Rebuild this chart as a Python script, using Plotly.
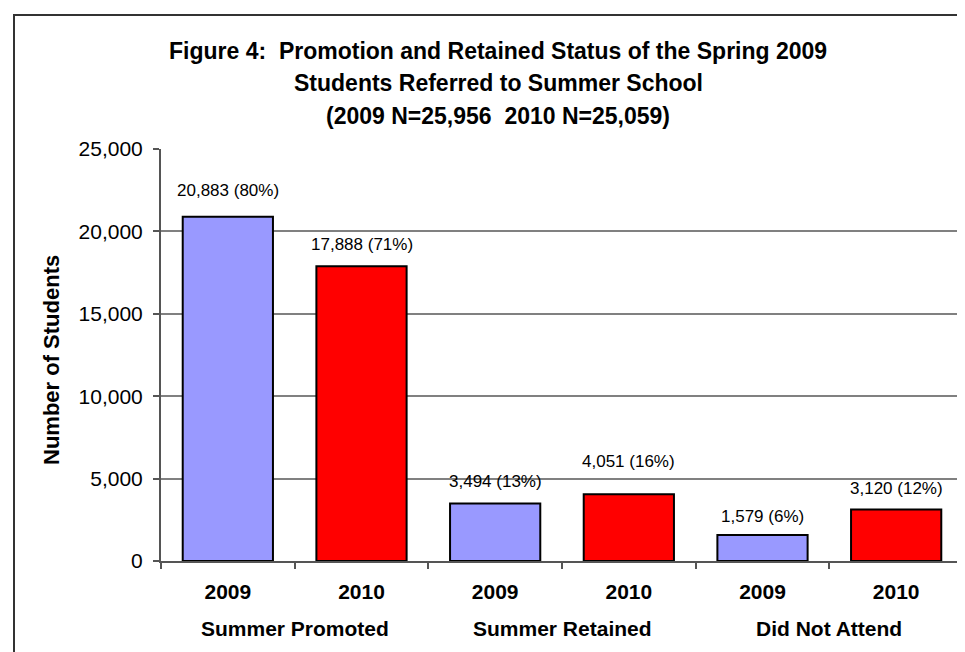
import plotly.graph_objects as go

# ---- data ----
groups = ["Summer Promoted", "Summer Retained", "Did Not Attend"]
years = ["2009", "2010"]
students = [20883, 17888, 3494, 4051, 1579, 3120]
percents = [80, 71, 13, 16, 6, 12]

# ---- style ----
year_colors = {"2009": "#9999FF", "2010": "#FF0000"}
label_lift = [26, 22, 22, 33, 18, 21]  # px above bar top (label centre)
FONT = "Arial, Liberation Sans, sans-serif"

cats = [f"{g} {y}" for g in groups for y in years]
bar_years = [y for g in groups for y in years]
colors = [year_colors[y] for y in bar_years]
labels = [f"{v:,} ({p}%)" for v, p in zip(students, percents)]

fig = go.Figure()
fig.add_trace(go.Bar(
    x=cats, y=students,
    marker=dict(color=colors, line=dict(color="#000000", width=2)),
    hoverinfo="skip",
))

L, R, T, B = 153, 10, 141, 99
W, H = 965, 652
pw, ph = W - L - R, H - T - B

annotations = []
for i, (c, v, t) in enumerate(zip(cats, students, labels)):
    annotations.append(dict(
        x=c, y=v, xref="x", yref="y", text=t, showarrow=False,
        yanchor="middle", yshift=label_lift[i],
        font=dict(family=FONT, size=17, color="#000000"),
    ))

# group labels under pairs of years
for gi, g in enumerate(groups):
    annotations.append(dict(
        x=gi * 2 + 0.5, y=0, xref="x", yref="paper", text=f"<b>{g}</b>",
        showarrow=False, yanchor="middle", yshift=-67,
        font=dict(family=FONT, size=21, color="#000000"),
    ))

# title lines
title_lines = [
    "Figure 4:  Promotion and Retained Status of the Spring 2009",
    "Students Referred to Summer School",
    "(2009 N=25,956  2010 N=25,059)",
]
title_centers = [43, 75, 108]
tx = (490 - L) / pw
for line, cy in zip(title_lines, title_centers):
    annotations.append(dict(
        x=tx, y=1, xref="paper", yref="paper", text=f"<b>{line}</b>",
        showarrow=False, xanchor="center", yanchor="middle",
        yshift=T - cy, font=dict(family=FONT, size=23, color="#000000"),
    ))

# y-axis title
annotations.append(dict(
    x=(43 - L) / pw, y=(H - B - 352) / ph, xref="paper", yref="paper",
    text="<b>Number of Students</b>", textangle=-90, showarrow=False,
    xanchor="center", yanchor="middle",
    font=dict(family=FONT, size=22, color="#000000"),
))

shapes = [
    # right edge of plot area
    dict(type="line", xref="paper", yref="paper", x0=1, x1=1, y0=0, y1=1,
         line=dict(color="#808080", width=2.5)),
    # outer chart border (right side falls outside the picture)
    dict(type="rect", xref="paper", yref="paper",
         x0=(6 - L) / pw, x1=(968 - L) / pw,
         y0=(H - B - 649.5) / ph, y1=(H - B - 7) / ph,
         line=dict(color="#333333", width=2), layer="above"),
]

fig.update_layout(
    width=W, height=H,
    margin=dict(l=L, r=R, t=T, b=B, pad=0),
    paper_bgcolor="#FFFFFF", plot_bgcolor="#FFFFFF",
    showlegend=False, bargap=0.325,
    annotations=annotations, shapes=shapes,
    font=dict(family=FONT, color="#000000"),
)
fig.update_xaxes(
    type="category", tickvals=cats, ticktext=[f"<b>{y}</b>" for y in bar_years],
    tickson="boundaries", ticks="outside", ticklen=6, tickcolor="#555555",
    tickwidth=1.5, showline=True, linecolor="#555555", linewidth=2,
    showgrid=False, tickfont=dict(family=FONT, size=21, color="#000000"),
    ticklabelstandoff=11, fixedrange=True,
)
fig.update_yaxes(
    range=[0, 25000], dtick=5000, tickformat=",d",
    ticks="outside", ticklen=6, tickcolor="#555555", tickwidth=1.5,
    showline=True, linecolor="#555555", linewidth=2,
    showgrid=True, gridcolor="#808080", gridwidth=1.5,
    zeroline=False, tickfont=dict(family=FONT, size=21, color="#000000"),
    ticklabelstandoff=6, fixedrange=True,
)

fig.write_html("out.html")
